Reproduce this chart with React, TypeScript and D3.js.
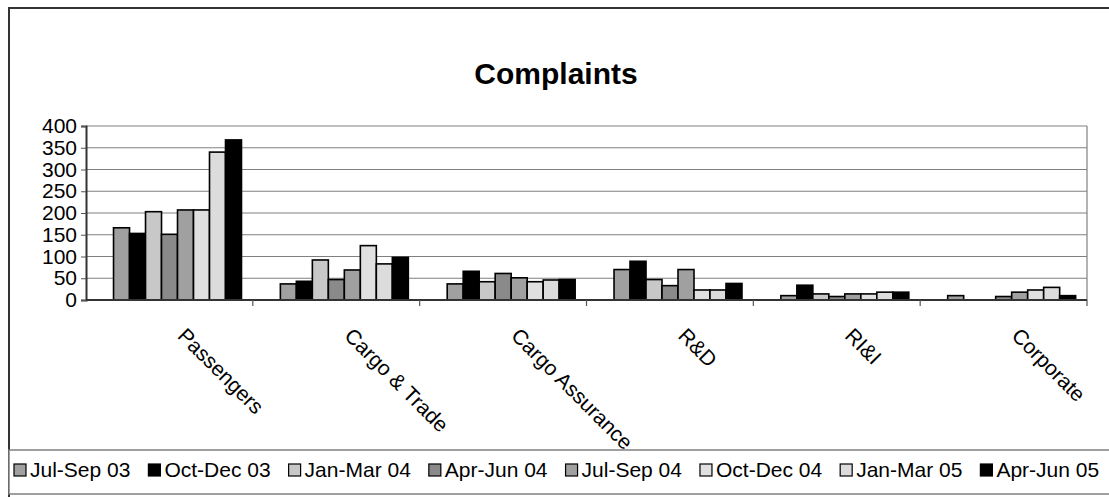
import React, { useEffect, useRef } from 'react';
import * as d3 from 'd3';

const categories = ['Passengers', 'Cargo & Trade', 'Cargo Assurance', 'R&D', 'RI&I', 'Corporate'];
const seriesNames = ['Jul-Sep 03', 'Oct-Dec 03', 'Jan-Mar 04', 'Apr-Jun 04', 'Jul-Sep 04', 'Oct-Dec 04', 'Jan-Mar 05', 'Apr-Jun 05'];
const seriesColors = ['#a0a0a0', '#000000', '#c8c8c8', '#8a8a8a', '#a0a0a0', '#e0e0e0', '#dcdcdc', '#000000'];

// one row per category, one value per quarter
const passengers = [166, 153, 203, 151, 207, 207, 340, 368];
const cargoTrade = [37, 43, 92, 47, 69, 125, 83, 98];
const cargoAssurance = [37, 66, 42, 61, 51, 42, 46, 47];
const rnd = [70, 89, 47, 33, 70, 23, 23, 38];
const rii = [10, 34, 14, 8, 14, 14, 18, 18];
const corporate = [10, 0, 0, 8, 18, 23, 29, 10];
const yTicks = [0, 50, 100, 150, 200, 250, 300, 350, 400];

const values = [passengers, cargoTrade, cargoAssurance, rnd, rii, corporate];

const App = () => {
  const svgRef = useRef<SVGSVGElement>(null);

  useEffect(() => {
    const width = 1109;
    const height = 497;
    const plot = { left: 86, right: 1087, top: 126, bottom: 300 };
    const font = 'Arial, "Liberation Sans", sans-serif';

    const svg = d3.select(svgRef.current);
    svg.selectAll('*').remove();
    svg.attr('width', width).attr('height', height);

    svg.append('rect')
      .attr('width', width).attr('height', height).attr('fill', '#fff');

    // outer chart frame (runs past the window on right and bottom)
    svg.append('rect')
      .attr('x', 9).attr('y', 8)
      .attr('width', 1300).attr('height', 800)
      .attr('fill', 'none')
      .attr('stroke', '#333').attr('stroke-width', 2);

    svg.append('text')
      .attr('x', 556).attr('y', 84)
      .attr('text-anchor', 'middle')
      .attr('font-family', font)
      .attr('font-weight', 'bold')
      .attr('font-size', 30)
      .text('Complaints');

    const x0 = d3.scaleBand<string>()
      .domain(categories)
      .range([plot.left, plot.right]);

    const bw = x0.bandwidth();
    const x1 = d3.scaleBand<string>()
      .domain(seriesNames)
      .range([bw * 0.165, bw * 0.932]);

    const y = d3.scaleLinear()
      .domain([0, 400])
      .range([plot.bottom, plot.top]);

    // gridlines
    svg.append('g')
      .selectAll('line')
      .data(yTicks.filter(d => d > 0))
      .join('line')
      .attr('x1', plot.left).attr('x2', plot.right)
      .attr('y1', d => y(d)).attr('y2', d => y(d))
      .attr('stroke', '#808080').attr('stroke-width', 1.2);

    // plot area right edge
    svg.append('line')
      .attr('x1', plot.right).attr('x2', plot.right)
      .attr('y1', plot.top).attr('y2', plot.bottom)
      .attr('stroke', '#808080').attr('stroke-width', 1.2);

    // bars
    const groups = svg.append('g')
      .selectAll('g')
      .data(values)
      .join('g')
      .attr('transform', (_, i) => `translate(${x0(categories[i])},0)`);

    groups.selectAll('rect')
      .data(d => d.map((v, j) => ({ v, j })))
      .join('rect')
      .filter(d => d.v > 0)
      .attr('x', d => x1(seriesNames[d.j])!)
      .attr('y', d => y(d.v))
      .attr('width', x1.bandwidth())
      .attr('height', d => y(0) - y(d.v))
      .attr('fill', d => seriesColors[d.j])
      .attr('stroke', '#000')
      .attr('stroke-width', 1.6);

    // x axis
    const xAxis = svg.append('g');
    xAxis.append('line')
      .attr('x1', plot.left).attr('x2', plot.right)
      .attr('y1', plot.bottom).attr('y2', plot.bottom)
      .attr('stroke', '#333').attr('stroke-width', 2);
    xAxis.selectAll('line.tick')
      .data(categories.map((c, i) => i + 1))
      .join('line')
      .attr('class', 'tick')
      .attr('x1', i => plot.left + i * bw).attr('x2', i => plot.left + i * bw)
      .attr('y1', plot.bottom).attr('y2', plot.bottom + 6)
      .attr('stroke', '#555').attr('stroke-width', 1.2);
    xAxis.selectAll('text')
      .data(categories)
      .join('text')
      .attr('transform', d => `translate(${x0(d)! + bw / 2 + 7},${plot.bottom + 37}) rotate(45)`)
      .attr('font-family', font)
      .attr('font-size', 21)
      .text(d => d);

    // y axis
    const yAxis = svg.append('g')
      .attr('transform', `translate(${plot.left},0)`)
      .call(d3.axisLeft(y).tickValues(yTicks).tickSize(5).tickPadding(4));
    yAxis.select('.domain').attr('stroke', '#333').attr('stroke-width', 2);
    yAxis.selectAll('.tick line').attr('stroke', '#555');
    yAxis.selectAll('.tick text')
      .attr('font-family', font)
      .attr('font-size', 21)
      .attr('fill', '#000');

    // legend
    svg.append('rect')
      .attr('x', 9).attr('y', 450)
      .attr('width', 1300).attr('height', 44)
      .attr('fill', '#fff')
      .attr('stroke', '#808080').attr('stroke-width', 1.5);

    let lx = 14;
    seriesNames.forEach((name, i) => {
      svg.append('rect')
        .attr('x', lx).attr('y', 464)
        .attr('width', 12).attr('height', 12)
        .attr('fill', seriesColors[i])
        .attr('stroke', '#000').attr('stroke-width', 1.2);
      const t = svg.append('text')
        .attr('x', lx + 16).attr('y', 477)
        .attr('font-family', font)
        .attr('font-size', 21)
        .text(name);
      const w = (t.node() as SVGTextElement).getComputedTextLength();
      lx += 16 + w + 18;
    });
  });

  return (
    <svg ref={svgRef} style={{ position: 'absolute', left: 0, top: 0 }}></svg>
  );
};

export default App;
